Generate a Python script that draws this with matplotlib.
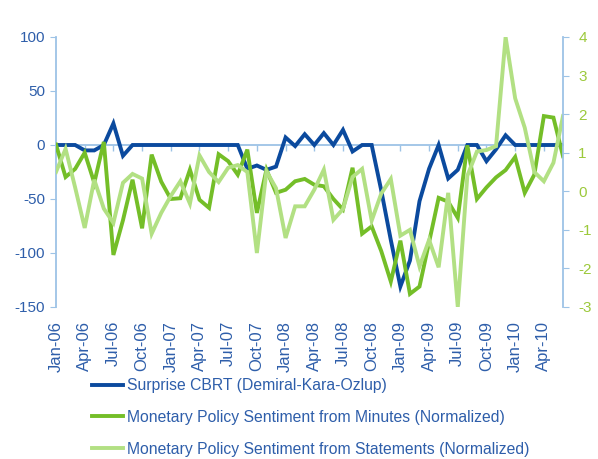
import numpy as np
import pandas as pd
from matplotlib import pyplot as plt

plt.rcParams['font.family'] = ['Liberation Sans', 'DejaVu Sans']
plt.rcParams['axes.unicode_minus'] = False

# monthly data, Jan-06 .. Jun-10
months = pd.date_range('2006-01-01', '2010-06-01', freq='MS')

surprise_cbrt = [0, 0, 0, -5, -5, 0, 20, -10, 0, 0, 0, 0,
                 0, 0, 0, 0, 0, 0, 0, 0, -22, -19, -23, -20,
                 7, -1, 10, 0, 11, 0, 14, -6, 0, 0, -42, -88,
                 -131, -107, -52, -22, 0, -31, -23, 0, 0, -15, -4, 9,
                 0, 0, 0, 0, 0, 0]

sentiment_minutes = [1.21, 0.37, 0.58, 1.0, 0.22, 1.28, -1.65, -0.75, 0.3, -0.96, 0.95, 0.25,
                     -0.2, -0.18, 0.56, -0.22, -0.43, 0.96, 0.78, 0.43, 1.08, -0.56, 0.56, -0.04,
                     0.04, 0.26, 0.32, 0.17, 0.13, -0.2, -0.47, 0.61, -1.1, -0.91, -1.55, -2.34,
                     -1.28, -2.66, -2.47, -1.32, -0.17, -0.27, -0.69, 1.19, -0.2, 0.1, 0.36, 0.55,
                     0.89, -0.04, 0.43, 1.95, 1.91, 0.91]

sentiment_statements = [0.5, 1.1, 0.1, -0.95, 0.3, -0.45, -0.82, 0.22, 0.45, 0.33, -1.1, -0.56,
                        -0.12, 0.26, -0.32, 0.93, 0.5, 0.24, 0.61, 0.68, 0.5, -1.6, 0.52, 0.08,
                        -1.21, -0.39, -0.39, 0.04, 0.56, -0.74, -0.46, 0.37, 0.58, -0.76, -0.06, 0.32,
                        -1.15, -1.0, -1.95, -1.26, -1.97, -0.04, -3.0, 0.4, 1.03, 1.07, 1.17, 4.0,
                        2.41, 1.65, 0.5, 0.26, 0.74, 1.95]

series_names = ['Surprise CBRT (Demiral-Kara-Ozlup)',
                'Monetary Policy Sentiment from Minutes (Normalized)',
                'Monetary Policy Sentiment from Statements (Normalized)']

left_ticks = [-150, -100, -50, 0, 50, 100]
right_ticks = [-3, -2, -1, 0, 1, 2, 3, 4]

# colours
c_blue = '#0B4A9E'
c_green = '#74BE28'
c_light = '#B2E083'
c_axis = '#9DC3E6'
c_text = '#2E5EAA'
c_right = '#9CC93B'

x = np.arange(len(months))
labels = [m.strftime('%b-%y') for m in months]

fig = plt.figure(figsize=(5.98, 4.59), dpi=100)
fig.subplots_adjust(left=56/598, right=563/598, top=1-37/459, bottom=1-307/459)
ax = fig.add_subplot(111)
ax2 = ax.twinx()

l1, = ax.plot(x, surprise_cbrt, color=c_blue, lw=2.8, solid_joinstyle='miter', zorder=3)
l2, = ax2.plot(x, sentiment_minutes, color=c_green, lw=2.8, solid_joinstyle='miter')
l3, = ax2.plot(x, sentiment_statements, color=c_light, lw=2.8, solid_joinstyle='miter')

ax.set_xlim(0, len(x) - 1)
ax.set_ylim(-150, 100)
ax2.set_ylim(-3, 4)
ax.set_yticks(left_ticks)
ax2.set_yticks(right_ticks)

# horizontal axis sits at zero of the left scale
ax.spines['bottom'].set_position(('data', 0))
ax.spines['bottom'].set_color(c_axis)
ax.spines['bottom'].set_linewidth(1.3)
ax.spines['bottom'].set_zorder(2)
ax.set_xticks(x[::3])
ax.tick_params(axis='x', direction='out', length=4, width=1, color=c_axis, labelbottom=False)

# labels at the bottom of the plot area
sec = ax.secondary_xaxis('bottom')
sec.set_xticks(x[::3], labels[::3])
sec.tick_params(axis='x', length=0, pad=10, labelrotation=90, labelsize=12, labelcolor=c_text)
sec.spines['bottom'].set_visible(False)

for a in (ax, ax2):
    a.spines['top'].set_visible(False)
ax2.spines['bottom'].set_visible(False)
ax2.spines['left'].set_visible(False)
ax.spines['right'].set_visible(False)
ax.spines['left'].set_color(c_axis)
ax2.spines['right'].set_color(c_axis)
ax.spines['left'].set_linewidth(1.3)
ax2.spines['right'].set_linewidth(1.3)

ax.tick_params(axis='y', direction='out', length=4, color=c_axis, labelsize=11, labelcolor=c_text, pad=4)
ax2.tick_params(axis='y', direction='out', length=4, color=c_axis, labelsize=11, labelcolor=c_right, pad=7)

leg = fig.legend([l1, l2, l3], series_names, loc='upper left',
                 bbox_to_anchor=(92/598, 1-378/459), frameon=False, fontsize=11.3,
                 handlelength=2.0, handletextpad=0.25, labelspacing=1.07,
                 borderpad=0, borderaxespad=0)
for t in leg.get_texts():
    t.set_color(c_text)

fig.savefig('out.png', dpi=100)
